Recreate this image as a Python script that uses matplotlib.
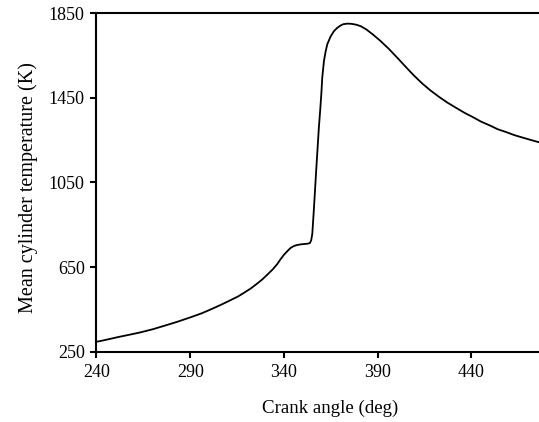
import matplotlib
matplotlib.use("Agg")
import matplotlib.pyplot as plt

crank_angle = [240.5, 241.9, 247, 252, 257.5, 263.3, 270, 276, 283, 290, 296, 301, 306, 311.4,
               315.5, 319, 322.5, 325.7, 328.5, 331, 334, 336.4, 338.1, 340, 342, 343.5, 345,
               346.5, 348.8, 351, 352.4, 353.8, 354.5, 355.1, 355.9, 357.2, 358.6, 359.3, 359.9,
               360.4, 361.3, 362.2, 363.1, 364.8, 366.6, 368.4, 370, 371.5, 373.8, 376, 378.5,
               380.9, 384, 387.5, 391.6, 396, 400.5, 405, 409.4, 414, 418.3, 423, 427.3, 432,
               436.2, 441, 445.1, 450, 454, 459, 462.9, 467.5, 471.8, 476.6]
temperature = [298, 300, 310, 320, 330, 341, 356, 372, 391, 412, 431, 450, 470, 493,
               511, 530, 550, 572, 592, 613, 639, 664, 686, 708, 727, 740, 748,
               753, 757, 759, 760, 763, 776, 807, 917, 1110, 1309, 1390, 1466,
               1544, 1623, 1668, 1703, 1738, 1764, 1780, 1790, 1797, 1800, 1799, 1795,
               1788, 1772, 1748, 1717, 1680, 1638, 1595, 1554, 1515, 1483, 1452, 1426, 1401,
               1379, 1357, 1337, 1318, 1301, 1286, 1273, 1261, 1250, 1238]

xticks = [240, 290, 340, 390, 440]
yticks = [250, 650, 1050, 1450, 1850]

plt.rcParams['font.family'] = ['Liberation Serif', 'DejaVu Serif']

fig = plt.figure(figsize=(5.39, 4.22), dpi=100)
ax = fig.add_axes([0.179, 0.1666, 0.821, 0.8025])
ax.plot(crank_angle, temperature, color='black', lw=1.3)
ax.set_xlim(240, 476)
ax.set_ylim(250, 1850)
ax.set_xticks(xticks)
ax.set_yticks(yticks)
ax.tick_params(direction='out', length=4.5, width=1.5, labelsize=13, pad=4)
for s in ['left', 'bottom', 'top']:
    ax.spines[s].set_linewidth(1.5)
ax.spines['right'].set_visible(False)
ax.set_xlabel('Crank angle (deg)', fontsize=13.6, labelpad=14, x=0.528)
ax.set_ylabel('Mean cylinder temperature (K)', fontsize=14.5, labelpad=8, y=0.485)
fig.savefig('out.png', dpi=100)
